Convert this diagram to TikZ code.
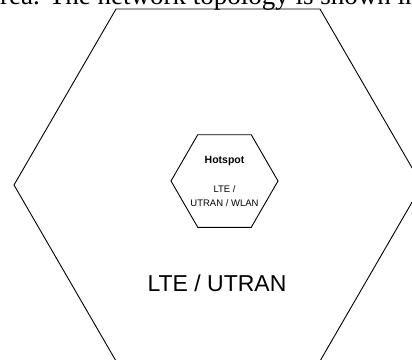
\documentclass[tikz,border=0pt]{standalone}
\usepackage{fontspec}
\setmainfont{Liberation Sans}
\newfontfamily\serifont{Liberation Serif}
\begin{document}
\begin{tikzpicture}[x=1pt,y=-1pt,
  hex/.style={draw=black, line width=0.9pt, line join=miter},
  lbl/.style={inner sep=0pt, text=black}]
\useasboundingbox (0,0) rectangle (412,359);
\clip (0,0) rectangle (412,359);
% clipped line of the surrounding text
\node[lbl, anchor=base west, font=\serifont\fontsize{27}{32}\selectfont] (caption) at (-12,4.5)
  {area. The network topology is shown in};
% outer cell
\draw[hex] (116,9) -- (320,9) -- (422,185) -- (320,361) -- (116,361) -- (14,185) -- cycle;
% hotspot cell
\draw[hex] (197.75,134.7) -- (251.25,134.7) -- (278,181) -- (251.25,227.3) -- (197.75,227.3) -- (171,181) -- cycle;
\node[lbl, font=\bfseries\fontsize{10.5}{12}\selectfont] (hot) at (224.5,161) {Hotspot};
\node[lbl, align=center, font=\fontsize{9.5}{14}\selectfont] (inner) at (224.5,196.3) {LTE /\\UTRAN / WLAN};
\node[lbl, font=\fontsize{23}{28}\selectfont] (outer) at (217,283) {LTE / UTRAN};
\end{tikzpicture}
\end{document}
